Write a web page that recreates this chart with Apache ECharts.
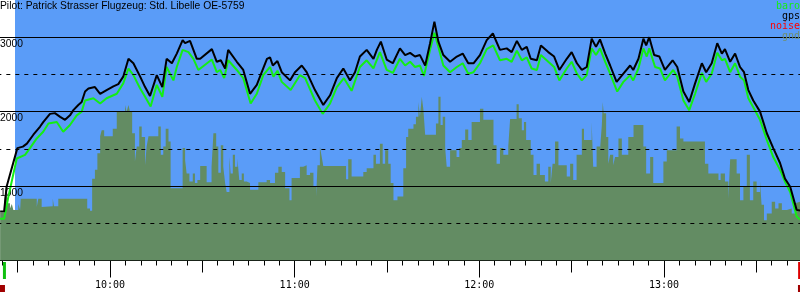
<!DOCTYPE html>
<html><head><meta charset="utf-8">
<script src="https://cdn.jsdelivr.net/npm/echarts@6/dist/echarts.min.js"></script>
<style>html,body{margin:0;padding:0;background:#fff}#c{width:800px;height:300px}</style>
</head><body><div id="c"></div>
<script>
const titleText = 'Pilot: Patrick Strasser Flugzeug: Std. Libelle OE-5759';
const legendLabels = ['baro', 'gps', 'noise', 'gnd'];
const solidLevels = [1000, 2000, 3000];
const dashedLevels = [500, 1500, 2500];
const takeoffTime = 565.7, landingTime = 823.9;
const noiseMarkTimes = [564.9, 824.5];

const gpsTime = [564.3,565.6,566.4,569.9,571.7,573.0,575.1,577.3,578.3,580.5,
582.1,583.8,585.4,587.0,588.1,589.7,590.8,591.9,593.0,595.1,
596.8,598.9,601.1,602.7,604.3,606.0,607.6,609.8,611.4,613.0,
615.2,617.0,618.4,620.1,621.7,623.6,624.4,626.0,628.2,629.3,
633.1,634.7,636.0,637.4,638.4,641.2,643.3,645.5,647.7,649.3,
651.0,652.0,652.9,654.4,655.8,658.5,660.1,662.3,663.9,666.6,
669.3,671.5,673.7,675.8,678.0,679.6,681.2,683.4,685.6,686.7,
688.0,689.9,691.9,694.2,695.9,697.5,699.1,700.7,702.4,704.0,
705.4,706.7,708.3,710.5,712.7,714.6,716.4,718.1,720.2,722.4,
724.4,726.7,728.9,730.5,732.2,733.8,735.4,736.7,738.7,740.0,
742.4,744.3,746.0,748.4,750.0,751.7,753.3,754.9,756.5,757.9,
759.2,760.9,762.5,764.6,766.8,769.0,770.0,771.7,773.3,774.2,
775.2,776.8,778.5,780.3,782.8,784.3,786.3,788.2,790.1,792.3,
793.7,795.5,797.3,798.8,799.8,801.5,803.1,804.7,806.0,807.4,
809.0,811.2,813.4,815.5,817.7,819.3,821.0,823.1,824.2];
const gpsAlt = [660,660,990,1510,1530,1570,1690,1800,1860,1970,
1980,1930,1890,1950,2020,2090,2130,2270,2310,2330,
2240,2290,2340,2370,2470,2710,2650,2470,2330,2210,
2490,2330,2710,2650,2780,2960,2920,2950,2710,2710,
2840,2670,2690,2580,2830,2670,2560,2240,2360,2530,
2710,2730,2620,2680,2530,2420,2530,2620,2530,2290,
2090,2220,2450,2580,2420,2530,2740,2830,2710,2830,
2940,2700,2650,2850,2760,2790,2740,2760,2620,2920,
3210,2940,2760,2670,2740,2780,2650,2650,2760,2960,
3050,2830,2850,2800,2950,2830,2870,2710,2690,2890,
2800,2740,2560,2710,2800,2650,2560,2600,2980,2870,
2970,2780,2620,2400,2510,2620,2560,2710,2980,2890,
3000,2760,2740,2560,2690,2600,2270,2130,2380,2650,
2530,2650,2920,2780,2840,2670,2780,2600,2530,2290,
2150,2000,1710,1510,1310,1100,990,680,670];

const baroTime = [564.3,565.6,567.0,569.7,570.2,572.4,574.0,576.2,578.3,580.0,
582.7,584.8,587.0,589.2,590.8,591.9,594.6,596.8,598.9,602.2,
604.3,606.0,607.6,609.8,611.4,613.2,615.2,617.0,618.4,620.6,
621.7,623.6,625.5,627.1,628.7,629.3,633.1,634.7,635.8,637.1,
638.4,641.2,643.3,645.7,647.7,649.8,652.0,653.1,654.4,655.8,
658.7,661.7,663.4,666.6,669.1,671.5,673.7,676.0,678.5,681.2,
683.4,685.6,687.7,689.9,691.9,694.2,695.9,697.5,699.1,700.7,
702.0,704.0,705.4,706.7,708.3,710.5,712.7,714.6,716.4,718.1,
720.2,722.4,724.5,726.7,728.9,730.5,732.2,733.8,735.4,737.0,
738.7,740.0,742.4,744.3,746.0,748.4,750.0,751.7,753.3,754.9,
756.5,757.9,759.2,760.9,762.5,764.8,766.8,769.0,770.0,771.7,
773.3,774.4,775.2,777.1,778.7,780.3,783.0,784.3,786.3,788.2,
790.1,792.3,793.7,795.5,797.3,798.8,799.8,801.5,803.1,804.7,
806.0,807.4,809.0,811.2,813.4,815.5,817.7,819.3,821.0,823.1,824.2];
const baroAlt = [560,560,860,1370,1390,1420,1510,1640,1730,1840,
1860,1730,1820,1950,2000,2150,2180,2110,2180,2240,
2380,2580,2490,2310,2200,2070,2360,2200,2600,2420,
2600,2830,2800,2710,2560,2580,2700,2530,2560,2450,
2690,2560,2450,2110,2240,2490,2600,2470,2550,2400,
2290,2490,2450,2150,1970,2110,2330,2450,2280,2600,
2690,2580,2800,2560,2520,2710,2620,2670,2600,2620,
2480,2830,3060,2870,2620,2530,2600,2650,2510,2530,
2650,2840,2890,2690,2710,2670,2820,2690,2730,2580,
2560,2760,2670,2600,2420,2580,2670,2510,2420,2490,
2850,2760,2850,2670,2510,2270,2400,2490,2420,2580,
2850,2740,2850,2600,2580,2420,2560,2470,2150,2020,
2240,2520,2400,2510,2790,2690,2710,2530,2650,2470,
2420,2180,2060,1890,1620,1390,1220,1060,920,590,550];

const gndTime = [564.3,565.6,566.2,566.7,567.5,568.1,568.6,570.2,570.8,571.0,
576.2,576.7,577.8,578.3,581.4,581.8,583.2,592.6,593.5,594.2,
595.1,595.9,596.8,597.3,598.1,600.9,602.2,604.9,605.4,606.0,
606.5,607.2,608.1,608.7,609.5,610.3,611.4,611.9,612.5,615.7,
616.5,617.3,618.1,619.0,619.7,623.6,624.4,624.9,625.8,626.9,
627.6,628.4,
629.3,631.4,633.0,633.6,634.5,635.2,636.0,636.8,637.4,637.9,
638.8,639.2,639.9,640.6,641.4,642.0,642.8,643.5,644.4,645.5,
648.2,650.9,652.0,653.6,654.7,655.8,656.9,658.3,659.0,661.7,
662.8,663.9,665.0,666.1,667.0,667.4,668.2,668.8,669.3,676.7,
677.4,678.5,682.3,683.4,685.6,686.4,687.7,688.6,689.4,690.4,
691.2,692.1,693.4,
694.2,695.3,696.2,696.9,698.6,699.4,700.2,700.7,701.3,701.8,
702.4,705.9,706.7,707.4,708.1,708.9,709.4,710.5,712.6,713.5,
714.3,715.4,716.4,717.5,720.2,721.3,724.6,725.6,726.7,727.8,
729.4,730.0,732.1,732.8,733.8,734.5,735.2,736.7,737.6,738.6,
739.7,741.3,742.4,743.2,743.8,744.6,745.7,748.4,749.5,750.5,
751.6,753.3,754.0,756.5,757.0,758.1,
759.2,759.8,760.1,760.4,761.2,761.9,762.5,763.5,764.1,765.2,
766.3,768.4,770.1,773.3,774.2,775.5,776.5,779.8,780.9,784.1,
785.2,786.3,793.3,794.4,797.7,798.4,799.8,800.9,801.5,803.6,
804.7,805.8,806.9,807.9,809.0,810.1,811.2,811.7,812.5,813.4,
815.0,816.1,817.2,818.3,819.9,821.5,822.6,823.1,824.2];
const gndAlt = [640,790,1010,770,700,760,680,760,680,830,
720,830,720,730,830,730,830,700,670,1100,
1220,1440,1670,1750,1670,1770,2000,2090,2000,2090,
2000,1710,1330,1530,1800,1660,1280,1530,1670,1800,
1420,1530,1770,1600,970,1510,1350,1170,1060,1170,
1040,1080,
1270,1050,1260,1710,1530,1180,1550,1260,1040,920,
1390,1170,1420,1260,1370,1080,1170,1060,1040,950,
1050,1080,1040,1180,1260,1190,970,810,1110,1260,
1280,1150,1180,990,860,1280,1530,1390,1270,1090,
1360,1130,1190,1240,1420,1300,1570,1300,1480,1300,
1040,810,860,
860,1240,1660,1770,1830,1930,2130,1930,2200,2040,
1690,1840,2200,1820,1930,1510,1260,1480,1390,1510,
1620,1760,1620,1860,2040,1890,1550,1300,1510,1420,
1530,1900,2100,1910,1750,1860,1620,1420,1150,1300,
1150,1060,1260,1040,1300,1600,1280,1130,1300,1080,
1420,1770,1620,1860,1260,1530,
1480,1820,2130,1980,1660,1300,1420,1280,1390,1640,
1420,1660,1820,1530,1170,1390,1040,1330,1480,1800,
1640,1600,1300,1170,1080,1170,1060,830,1360,1170,
810,990,1420,810,1060,920,1060,750,540,630,
790,700,770,680,700,630,770,790,790];

const COL_BARO = '#14ee14', COL_GPS = '#000000', COL_NOISE = '#ff0000', COL_GND = '#638c63';
const COL_SKY = '#5a9cf8';

const zip = (a, b) => a.map((t, i) => [t, b[i]]);
const fmtTime = v => { const h = Math.floor(v / 60), m = Math.round(v - h * 60); return h + ':' + (m < 10 ? '0' : '') + m; };

const chart = echarts.init(document.getElementById('c'), null, {renderer: 'canvas', width: 800, height: 300});

const tickStyle = {color: '#000', width: 1};
function xAx(interval, len, extra) {
  return Object.assign({
    type: 'value', min: 540, max: 840, interval: interval, position: 'bottom',
    axisLine: {show: false}, splitLine: {show: false}, axisLabel: {show: false},
    axisTick: {show: true, length: len, lineStyle: tickStyle}
  }, extra || {});
}

const lineFont = '10.3px "Liberation Sans", Arial, sans-serif';
const monoFont = '10px "DejaVu Sans Mono", monospace';

const baseGraphics = [
  {type: 'rect', z: -10, silent: true, shape: {x: 15, y: 0, width: 785, height: 260.5}, style: {fill: COL_SKY}},
  {type: 'text', x: 0, y: 1.2, z: 10, style: {text: titleText, font: lineFont, fill: '#000', verticalAlign: 'top'}}
];
const legendCols = [COL_BARO, COL_GPS, COL_NOISE, '#6f8f6f'];
const legendY = [1.5, 11.5, 21.5, 31];
legendLabels.forEach((l, i) => baseGraphics.push({
  type: 'text', x: 800, y: legendY[i], z: 10,
  style: {text: l, font: monoFont, fill: legendCols[i], align: 'right', verticalAlign: 'top'}
}));

const markLineData = solidLevels.map(v => ({yAxis: v, lineStyle: {type: 'solid', color: '#000', width: 1}}))
  .concat(dashedLevels.map(v => ({yAxis: v, lineStyle: {type: [4, 5], color: '#000', width: 1}})));

chart.setOption({
  animation: false,
  grid: {left: -74.67, right: -48.67, top: 0, bottom: 39.5, containLabel: false, outerBoundsMode: 'none'},
  xAxis: [
    xAx(5, 5, {axisLine: {show: true, onZero: false, lineStyle: {color: '#000', width: 1}}}),
    xAx(30, 12),
    xAx(60, 17, {axisLabel: {show: true, formatter: fmtTime, margin: 20, fontFamily: '"DejaVu Sans Mono", monospace', fontSize: 10, color: '#000'}})
  ],
  yAxis: {
    type: 'value', min: 0, max: 3500, interval: 1000, position: 'left', offset: -74.67,
    axisLine: {show: false}, axisTick: {show: false}, splitLine: {show: false},
    axisLabel: {inside: true, margin: 0, formatter: v => solidLevels.includes(v) ? String(v) : '',
      fontFamily: '"Liberation Sans", Arial, sans-serif', fontSize: 10.3, color: '#000', verticalAlign: 'top', padding: [2, 0, 0, 0]}
  },
  graphic: baseGraphics,
  series: [
    {name: 'gnd', type: 'line', data: zip(gndTime, gndAlt), step: 'end', symbol: 'none', z: 1,
      lineStyle: {width: 0}, areaStyle: {color: COL_GND, opacity: 1}, silent: true},
    {name: 'levels', type: 'line', data: [], z: 3, silent: true,
      markLine: {silent: true, symbol: ['none', 'none'], label: {show: false}, animation: false, data: markLineData}},
    {name: 'baro', type: 'line', data: zip(baroTime, baroAlt), symbol: 'none', z: 4,
      lineStyle: {color: COL_BARO, width: 2}},
    {name: 'gps', type: 'line', data: zip(gpsTime, gpsAlt), symbol: 'none', z: 5,
      lineStyle: {color: COL_GPS, width: 2}}
  ]
});

const px = t => chart.convertToPixel({xAxisIndex: 0}, t);
const markerGraphics = baseGraphics.slice();
markerGraphics.push({type: 'rect', z: 10, shape: {x: px(takeoffTime) - 1.5, y: 262, width: 3, height: 17}, style: {fill: '#10c010'}});
markerGraphics.push({type: 'rect', z: 10, shape: {x: px(landingTime) - 1, y: 262, width: 3, height: 17}, style: {fill: '#dd0000'}});
noiseMarkTimes.forEach(t => markerGraphics.push({type: 'rect', z: 10, shape: {x: px(t) - 3, y: 285, width: 6, height: 7}, style: {fill: '#a00000'}}));
chart.setOption({graphic: markerGraphics});
</script></body></html>
